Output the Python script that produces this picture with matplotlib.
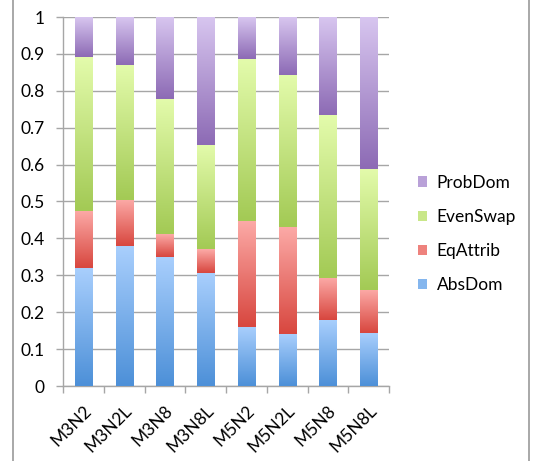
import numpy as np
import matplotlib.pyplot as plt
from matplotlib.patches import Patch
from matplotlib.colors import LinearSegmentedColormap
from matplotlib.lines import Line2D

plt.rcParams['font.family'] = ['Lato', 'DejaVu Sans']

categories = ['M3N2', 'M3N2L', 'M3N8', 'M3N8L', 'M5N2', 'M5N2L', 'M5N8', 'M5N8L']
abs_dom   = [0.320, 0.380, 0.350, 0.307, 0.160, 0.141, 0.179, 0.144]
eq_attrib = [0.155, 0.125, 0.062, 0.063, 0.288, 0.290, 0.115, 0.117]
even_swap = [0.417, 0.366, 0.366, 0.284, 0.439, 0.413, 0.441, 0.328]
prob_dom  = [0.108, 0.129, 0.222, 0.346, 0.113, 0.156, 0.265, 0.411]

series = [
    ('AbsDom', abs_dom, '#a9cffd', '#4d90d8'),
    ('EqAttrib', eq_attrib, '#fcaaa7', '#d8473f'),
    ('EvenSwap', even_swap, '#e3fbab', '#a3ca55'),
    ('ProbDom', prob_dom, '#d7c5ef', '#8d6bb5'),
]

fig = plt.figure(figsize=(5.36, 4.61), dpi=100)
ax = fig.add_axes([63/536, 1 - 386/461, 326/536, 369/461])

x = np.arange(len(categories))
grad = np.linspace(1, 0, 64).reshape(-1, 1)
bottom = np.zeros(len(categories))
handles = []
for name, vals, top_c, bot_c in series:
    cmap = LinearSegmentedColormap.from_list(name, [bot_c, top_c])
    bars = ax.bar(x, vals, width=0.42, bottom=bottom, color='none', zorder=3)
    for b in bars:
        x0, y0 = b.get_x(), b.get_y()
        ax.imshow(grad, cmap=cmap, aspect='auto', origin='upper',
                  extent=[x0, x0 + b.get_width(), y0, y0 + b.get_height()],
                  zorder=3, interpolation='bilinear')
        # soft drop shadow on the right edge
        ax.add_patch(plt.Rectangle((x0 + b.get_width(), y0), 0.025, b.get_height(),
                                   color='#d8d8d8', zorder=2, lw=0))
    bottom += np.array(vals)
    handles.append(Patch(facecolor=cmap(0.6), edgecolor='none', label=name))

ax.set_xlim(-0.5, 7.5)
ax.set_ylim(0, 1)
ax.set_yticks(np.arange(0, 1.01, 0.1))
ax.set_yticklabels(['0', '0.1', '0.2', '0.3', '0.4', '0.5', '0.6', '0.7', '0.8', '0.9', '1'])
ax.yaxis.grid(True, color='#a6a6a6', lw=1, zorder=1)
ax.set_axisbelow(True)

# category boundaries get tick marks, labels sit at the bar centres
ax.set_xticks(np.arange(-0.5, 8, 1))
ax.set_xticklabels([])
ax.set_xticks(x, minor=True)
ax.set_xticklabels(categories, minor=True, rotation=45, ha='right', va='top',
                   rotation_mode='anchor', fontsize=12.5)
ax.tick_params(axis='x', which='minor', length=0, pad=12)
ax.tick_params(axis='x', which='major', length=5, color='#a6a6a6', width=1)
ax.tick_params(axis='y', length=5, color='#a6a6a6', width=1, labelsize=12.5, pad=8)

for s in ['top', 'right']:
    ax.spines[s].set_visible(False)
for s in ['left', 'bottom']:
    ax.spines[s].set_color('#a6a6a6')
    ax.spines[s].set_linewidth(1)

ax.set_xlim(-0.5, 7.5)

fig.legend(handles=handles[::-1], loc='center left', bbox_to_anchor=(402/536, 1 - 234/461),
           frameon=False, fontsize=12.5, handlelength=0.55, handleheight=0.55,
           handletextpad=0.55, labelspacing=1.05)

# outer chart frame edges
fig.add_artist(Line2D([12.7/536, 12.7/536], [0, 1], color='#999999', lw=1.2))
fig.add_artist(Line2D([528.5/536, 528.5/536], [0, 1], color='#999999', lw=1.2))

fig.savefig('out.png', dpi=100)
